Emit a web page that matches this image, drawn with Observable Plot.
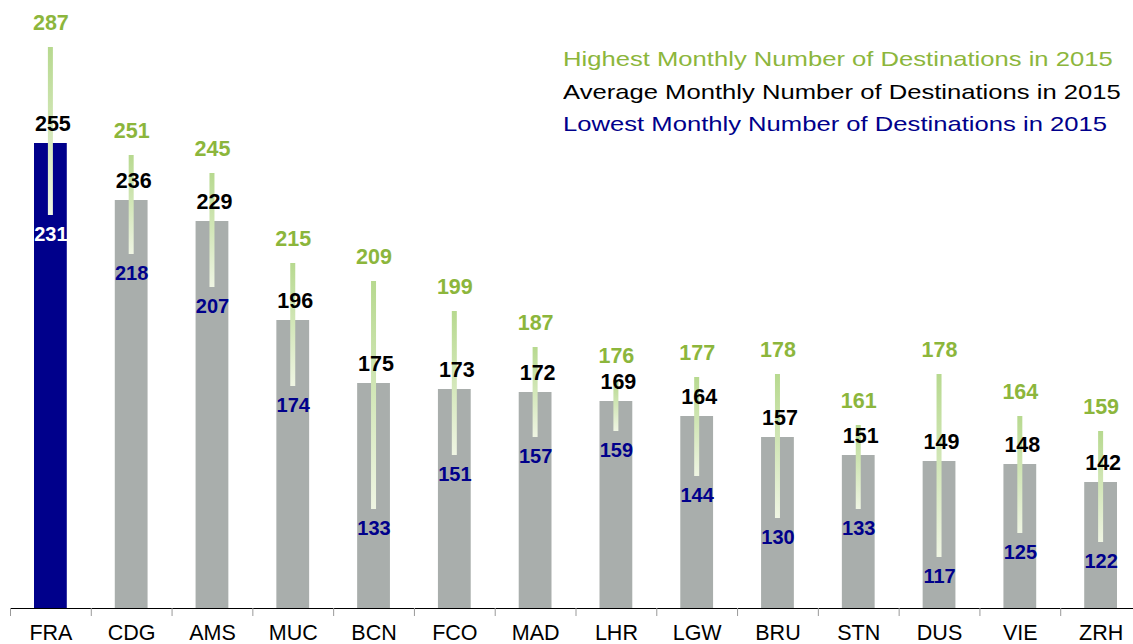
<!DOCTYPE html>
<html>
<head>
<meta charset="utf-8">
<script src="https://cdn.jsdelivr.net/npm/d3@7"></script>
<script src="https://cdn.jsdelivr.net/npm/@observablehq/plot@0.6"></script>
<style>
  html, body { margin: 0; padding: 0; background: #fff; }
  #wrap { position: relative; width: 1133px; height: 644px; font-family: "Liberation Sans", Arial, sans-serif; }
  #legend { position: absolute; left: 563px; top: 43px; font-size: 21px; line-height: 32.5px; white-space: nowrap; }
  #legend div { transform: scaleX(1.22); transform-origin: 0 50%; }
</style>
</head>
<body>
<div id="wrap">
  <div id="chart"></div>
  <div id="legend">
    <div style="color:#8cb63c">Highest Monthly Number of Destinations in 2015</div>
    <div style="color:#000">Average Monthly Number of Destinations in 2015</div>
    <div style="color:#00008b">Lowest Monthly Number of Destinations in 2015</div>
  </div>
</div>
<script>
const airports = ["FRA","CDG","AMS","MUC","BCN","FCO","MAD","LHR","LGW","BRU","STN","DUS","VIE","ZRH"];
const highest  = [287, 251, 245, 215, 209, 199, 187, 176, 177, 178, 161, 178, 164, 159];
const average  = [255, 236, 229, 196, 175, 173, 172, 169, 164, 157, 151, 149, 148, 142];
const lowest   = [231, 218, 207, 174, 133, 151, 157, 159, 144, 130, 133, 117, 125, 122];

const data = airports.map((a, i) => ({airport: a, high: highest[i], avg: average[i], low: lowest[i], first: i === 0}));

const W = 1133, H = 644;
const xRange = [10, 1141];
const bw = (xRange[1] - xRange[0]) / airports.length;
const font = '"Liberation Sans", Arial, sans-serif';

const defs = () => {
  const svg = d3.create("svg:defs");
  const g = svg.append("linearGradient").attr("id", "rangeGrad")
    .attr("x1", 0).attr("y1", 0).attr("x2", 0).attr("y2", 1);
  g.append("stop").attr("offset", "0%").attr("stop-color", "#b7d98f");
  g.append("stop").attr("offset", "100%").attr("stop-color", "#eff5e3");
  return svg.node();
};

const chart = Plot.plot({
  width: W,
  height: H,
  marginTop: 0,
  marginBottom: 36,
  marginLeft: 10,
  marginRight: 0,
  style: {fontFamily: font, background: "#fff", overflow: "visible"},
  x: {domain: airports, range: xRange, padding: 0, round: false},
  y: {domain: [100, 100 + 608 / 3], axis: null},
  marks: [
    defs,
    Plot.barY(data, {x: "airport", y1: 100, y2: "avg", fill: d => d.first ? "#00008b" : "#a9aeac", insetLeft: 24, insetRight: 24}),
    Plot.barY(data, {x: "airport", y1: "low", y2: "high", fill: "url(#rangeGrad)", insetLeft: (bw - 5) / 2, insetRight: (bw - 5) / 2}),
    Plot.ruleY([100], {stroke: "#000", strokeWidth: 1.2}),
    Plot.ruleX(airports, {x: d => d, y1: 100, y2: 100 - 8 / 3, dx: -bw / 2, stroke: "#999", clip: false}),
    Plot.axisX({tickSize: 0, tickPadding: 16, fontSize: 21.5, fill: "#000", label: null}),
    Plot.text(data, {x: "airport", y: "high", text: "high", lineAnchor: "bottom", dy: -18, fill: "#8cb63c", fontSize: 21.5, fontWeight: "bold"}),
    Plot.text(data, {x: "airport", y: "avg", text: "avg", lineAnchor: "bottom", dy: -13, dx: 2, fill: "#000", fontSize: 21.5, fontWeight: "bold"}),
    Plot.text(data, {x: "airport", y: "low", text: "low", lineAnchor: "top", dy: 11, fill: d => d.first ? "#fff" : "#00008b", fontSize: 20, fontWeight: "bold"})
  ]
});
document.getElementById("chart").appendChild(chart);
</script>
</body>
</html>
